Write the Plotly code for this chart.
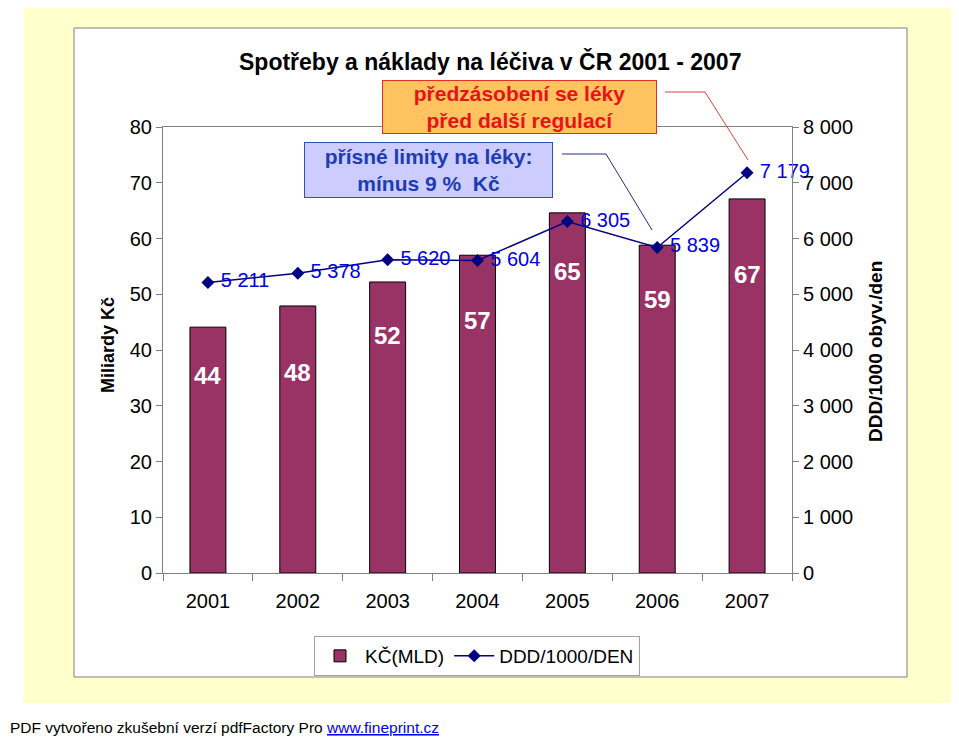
import plotly.graph_objects as go

# ---- data ----
years = ["2001", "2002", "2003", "2004", "2005", "2006", "2007"]
costs_bn_czk = [44.1, 47.9, 52.2, 57.0, 64.6, 58.8, 67.1]
ddd_per_1000 = [5211, 5378, 5620, 5604, 6305, 5839, 7179]
left_ticks = [0, 10, 20, 30, 40, 50, 60, 70, 80]
right_ticks = [0, 1000, 2000, 3000, 4000, 5000, 6000, 7000, 8000]

# ---- geometry helpers (reference pixels -> paper coords) ----
OFF = 8  # page body margin
W, H = 959 - OFF, 738 - OFF
PL, PR, PT, PB = 163, 792, 127, 573


def px(x):
    return (x - PL) / (PR - PL)


def py(y):
    return (PB - y) / (PB - PT)


FONT = "Liberation Sans, Arial, sans-serif"
BAR_COLOR = "#993366"
LINE_COLOR = "#000080"
LABEL_BLUE = "#0000E6"

fig = go.Figure()

fig.add_trace(go.Bar(
    x=years, y=costs_bn_czk, name="KČ(MLD)",
    marker=dict(color=BAR_COLOR, line=dict(color="black", width=1)),
    yaxis="y",
))

fig.add_trace(go.Scatter(
    x=years, y=ddd_per_1000, name="DDD/1000/DEN",
    mode="lines+markers+text",
    line=dict(color=LINE_COLOR, width=1.5),
    marker=dict(symbol="diamond", size=10, color=LINE_COLOR),
    text=[" " + f"{v:,}".replace(",", " ") for v in ddd_per_1000],
    textposition="middle right",
    textfont=dict(color=LABEL_BLUE, size=20, family=FONT),
    cliponaxis=False,
    yaxis="y2",
))

# bar value labels (white, bold) placed inside bars
label_shift = [-48, -67, -54, -65, -59, -54, -76]
annotations = []
for i, (v, s) in enumerate(zip(costs_bn_czk, label_shift)):
    annotations.append(dict(
        x=i, y=v, xref="x", yref="y", yshift=s, text=f"<b>{round(v)}</b>",
        showarrow=False, font=dict(color="white", size=24, family=FONT),
    ))


def paper_note(x, y, text, **kw):
    d = dict(x=px(x), y=py(y), xref="paper", yref="paper", text=text,
             showarrow=False, xanchor="center", yanchor="middle")
    d.update(kw)
    return d


# title
annotations.append(paper_note(
    490, 62, "<b>Spotřeby a náklady na léčiva v ČR 2001 - 2007</b>",
    font=dict(size=23, color="black", family=FONT)))

# orange callout box
annotations.append(paper_note(
    519.5, 107, "<b>předzásobení se léky<br>před další regulací</b>",
    font=dict(size=21, color="#E8121A", family=FONT),
    bgcolor="#FFC35F", bordercolor="#E03020", borderwidth=1, borderpad=0,
    width=273, height=52))

# blue callout box
annotations.append(paper_note(
    428.5, 170, "<b>přísné limity na léky:<br>mínus 9 %  Kč</b>",
    font=dict(size=21, color="#1E3CB4", family=FONT),
    bgcolor="#CCCCFF", bordercolor="#3050C0", borderwidth=1, borderpad=0,
    width=247, height=54))

# axis titles
annotations.append(paper_note(
    108, 345, "<b>Miliardy Kč</b>", textangle=-90,
    font=dict(size=18, color="black", family=FONT)))
annotations.append(paper_note(
    875, 352, "<b>DDD/1000 obyv./den</b>", textangle=-90,
    font=dict(size=19, color="black", family=FONT)))

# footer
annotations.append(paper_note(
    OFF, 727,
    "PDF vytvořeno zkušební verzí pdfFactory Pro "
    "<span style='color:#0000EE'><u>www.fineprint.cz</u></span>",
    xanchor="left", font=dict(size=15.5, color="black", family=FONT)))

shapes = [
    # outer yellow background
    dict(type="rect", xref="paper", yref="paper", layer="below",
         x0=px(24), x1=px(959), y0=py(3), y1=py(703),
         fillcolor="#FFFFCC", line=dict(width=0)),
    # white chart area
    dict(type="rect", xref="paper", yref="paper", layer="below",
         x0=px(74), x1=px(907), y0=py(28), y1=py(677),
         fillcolor="white", line=dict(color="#808080", width=1)),
    # red callout line
    dict(type="path", xref="paper", yref="paper", layer="above",
         path=f"M {px(665)} {py(92)} L {px(705)} {py(92)} L {px(748)} {py(160)}",
         line=dict(color="#E04040", width=1)),
    # navy callout line
    dict(type="path", xref="paper", yref="paper", layer="above",
         path=f"M {px(562)} {py(154)} L {px(606)} {py(154)} L {px(652)} {py(230)}",
         line=dict(color="#203080", width=1)),
]

fig.update_layout(
    width=W, height=H,
    margin=dict(l=PL - OFF, r=W - (PR - OFF), t=PT - OFF, b=H - (PB - OFF), pad=0),
    paper_bgcolor="white",
    plot_bgcolor="#C0C0C0",
    separators=". ",
    font=dict(family=FONT, size=20, color="black"),
    bargap=0.6,
    showlegend=True,
    legend=dict(
        orientation="h", x=px(477), y=py(636), xanchor="center", yanchor="top",
        bgcolor="white", bordercolor="#A0A0A0", borderwidth=1,
        font=dict(size=19, family=FONT, color="black"),
        itemwidth=40,
    ),
    xaxis=dict(
        type="category", range=[-0.5, 6.5],
        showline=True, linecolor="#808080", linewidth=1, mirror=True,
        ticks="outside", tickson="boundaries", ticklen=7, tickcolor="#808080",
        showgrid=False, tickfont=dict(size=20), ticklabelstandoff=10,
    ),
    yaxis=dict(
        range=[0, 80], tickvals=left_ticks,
        showline=True, linecolor="#808080", linewidth=1,
        ticks="outside", ticklen=6, tickcolor="#808080",
        showgrid=False, zeroline=False, tickfont=dict(size=20),
    ),
    yaxis2=dict(
        range=[0, 8000], tickvals=right_ticks, tickformat=",d",
        overlaying="y", side="right",
        showline=True, linecolor="#808080", linewidth=1,
        ticks="outside", ticklen=6, tickcolor="#808080",
        showgrid=False, zeroline=False, tickfont=dict(size=20),
    ),
    annotations=annotations,
    shapes=shapes,
)

fig.write_html("out.html")
